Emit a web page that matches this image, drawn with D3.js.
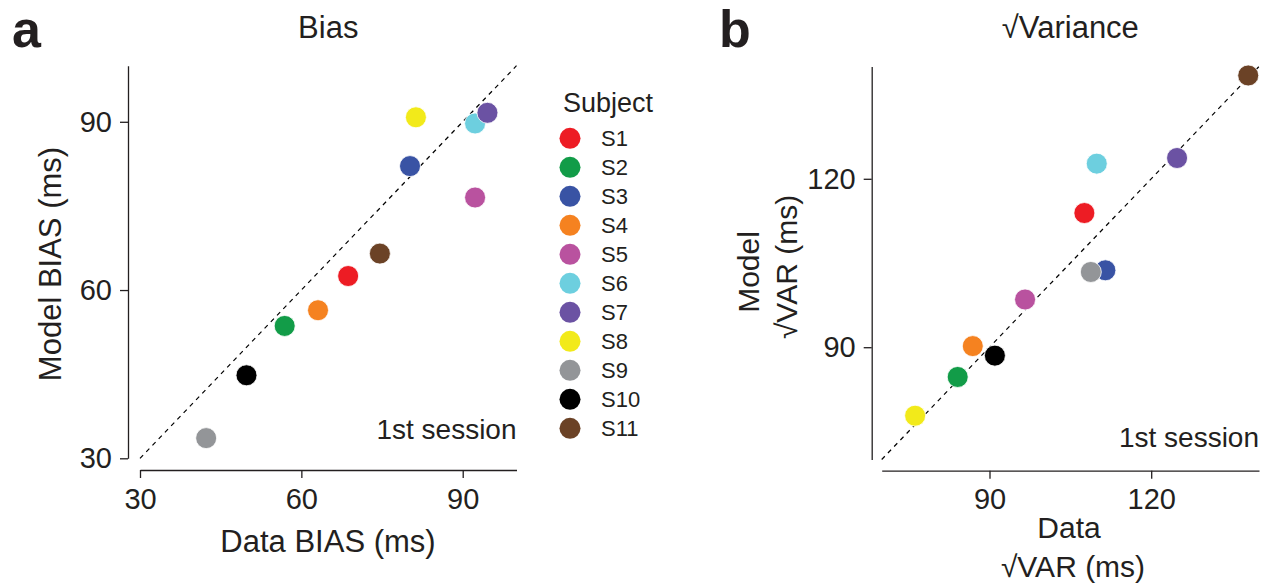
<!DOCTYPE html>
<html>
<head>
<meta charset="utf-8">
<script src="https://cdn.jsdelivr.net/npm/d3@7"></script>
<style>
  body { margin: 0; background: #fff; }
  svg text { font-family: "Helvetica Neue", Helvetica, Arial, "Liberation Sans", sans-serif; fill: #231f20; }
</style>
</head>
<body>
<div id="chart"></div>
<script>
// subjects and colours
const subjects = ["S1", "S2", "S3", "S4", "S5", "S6", "S7", "S8", "S9", "S10", "S11"];
const subjectColors = ["#ed1c24", "#129c48", "#3953a4", "#f58220", "#b9529f", "#6dcfdf", "#6b52a3", "#f2ea1a", "#939598", "#000000", "#6b4226"];

// panel a: bias (ms)
const biasData = [68.7, 56.9, 80.2, 63.1, 92.3, 92.3, 94.6, 81.3, 42.3, 49.8, 74.6];
const biasModel = [62.5, 53.6, 82.1, 56.4, 76.5, 89.7, 91.6, 90.8, 33.6, 44.8, 66.5];

// panel b: sqrt variance (ms)
const varData = [107.6, 84.1, 111.5, 86.9, 96.6, 109.9, 124.8, 76.2, 108.8, 91.0, 138.0];
const varModel = [113.9, 84.7, 103.7, 90.2, 98.5, 122.7, 123.7, 77.8, 103.4, 88.5, 138.4];

const biasTicks = [30, 60, 90];
const varTicks = [90, 120];

const W = 1275, H = 588;
const ink = "#231f20";

const svg = d3.select("#chart").append("svg")
  .attr("width", W)
  .attr("height", H);

function drawPanel(opts) {
  const x = d3.scaleLinear().domain(opts.domain).range(opts.xRange);
  const y = d3.scaleLinear().domain(opts.domain).range(opts.yRange);
  const g = svg.append("g");

  // identity line
  g.append("line")
    .attr("x1", x(opts.domain[0])).attr("y1", y(opts.domain[0]))
    .attr("x2", x(opts.domain[1])).attr("y2", y(opts.domain[1]))
    .attr("stroke", "#000")
    .attr("stroke-width", 1.2)
    .attr("stroke-dasharray", "4.5,4.5");

  // axes, offset from the data area
  const xAxis = g.append("g")
    .attr("transform", `translate(0,${opts.xAxisY})`)
    .call(d3.axisBottom(x).tickValues(opts.ticks).tickSize(8).tickSizeOuter(0).tickPadding(10));
  const yAxis = g.append("g")
    .attr("transform", `translate(${opts.yAxisX},0)`)
    .call(d3.axisLeft(y).tickValues(opts.ticks).tickSize(8).tickSizeOuter(0).tickPadding(8));

  [xAxis, yAxis].forEach(a => {
    a.select(".domain").attr("stroke", ink).attr("stroke-width", 1.3);
    a.selectAll(".tick line").attr("stroke", ink).attr("stroke-width", 1.3);
    a.selectAll(".tick text")
      .style("font-size", "29px")
      .attr("fill", ink);
  });

  // points
  const pts = subjects.map((s, i) => ({ s: s, x: opts.xs[i], y: opts.ys[i], c: subjectColors[i] }));
  g.selectAll("circle.pt")
    .data(pts)
    .enter()
    .append("circle")
    .attr("class", "pt")
    .attr("cx", d => x(d.x))
    .attr("cy", d => y(d.y))
    .attr("r", 10.5)
    .attr("fill", d => d.c)
    .attr("stroke", "#fff")
    .attr("stroke-width", 0.8);

  // session note
  g.append("text")
    .attr("x", opts.xRange[1])
    .attr("y", opts.noteY)
    .attr("text-anchor", "end")
    .style("font-size", "28px")
    .text("1st session");

  // title
  g.append("text")
    .attr("x", (opts.xRange[0] + opts.xRange[1]) / 2)
    .attr("y", 38)
    .attr("text-anchor", "middle")
    .style("font-size", "31px")
    .text(opts.title);

  // panel letter (kept fully inside the top edge)
  g.append("text")
    .attr("x", opts.letterX)
    .attr("y", 47)
    .style("font-size", "52px")
    .style("font-weight", "bold")
    .text(opts.letter);

  return { x, y, g };
}

const pa = drawPanel({
  domain: [30, 100],
  xRange: [140, 516.5],
  yRange: [458.3, 65.7],
  xAxisY: 470,
  yAxisX: 128,
  ticks: biasTicks,
  xs: biasData,
  ys: biasModel,
  noteY: 439,
  title: "Bias",
  letter: "a",
  letterX: 12
});

pa.g.append("text")
  .attr("x", 328)
  .attr("y", 552)
  .attr("text-anchor", "middle")
  .style("font-size", "31px")
  .text("Data BIAS (ms)");

pa.g.append("text")
  .attr("transform", "translate(61,264) rotate(-90)")
  .attr("text-anchor", "middle")
  .style("font-size", "31px")
  .text("Model BIAS (ms)");

const pb = drawPanel({
  domain: [70, 140],
  xRange: [881.7, 1259],
  yRange: [459.5, 66.5],
  xAxisY: 470.7,
  yAxisX: 871.7,
  ticks: varTicks,
  xs: varData,
  ys: varModel,
  noteY: 447,
  title: "\u221AVariance",
  letter: "b",
  letterX: 719
});

pb.g.append("text")
  .attr("x", 1069)
  .attr("y", 538)
  .attr("text-anchor", "middle")
  .style("font-size", "30px")
  .text("Data");
pb.g.append("text")
  .attr("x", 1073)
  .attr("y", 577)
  .attr("text-anchor", "middle")
  .style("font-size", "30px")
  .text("\u221AVAR (ms)");

pb.g.append("text")
  .attr("transform", "translate(759,272) rotate(-90)")
  .attr("text-anchor", "middle")
  .style("font-size", "30px")
  .text("Model");
pb.g.append("text")
  .attr("transform", "translate(797,267) rotate(-90)")
  .attr("text-anchor", "middle")
  .style("font-size", "30px")
  .text("\u221AVAR (ms)");

// legend
const legend = svg.append("g");
legend.append("text")
  .attr("x", 563)
  .attr("y", 112)
  .style("font-size", "27px")
  .text("Subject");

const rowY = d3.scalePoint().domain(subjects).range([138.3, 428.3]);
const rows = legend.selectAll("g.row")
  .data(subjects)
  .enter()
  .append("g")
  .attr("class", "row")
  .attr("transform", d => `translate(0,${rowY(d)})`);
rows.append("circle")
  .attr("cx", 570)
  .attr("r", 10.5)
  .attr("fill", (d, i) => subjectColors[i]);
rows.append("text")
  .attr("x", 601)
  .attr("dy", "0.35em")
  .style("font-size", "22px")
  .attr("fill", "#000")
  .text(d => d);
</script>
</body>
</html>
